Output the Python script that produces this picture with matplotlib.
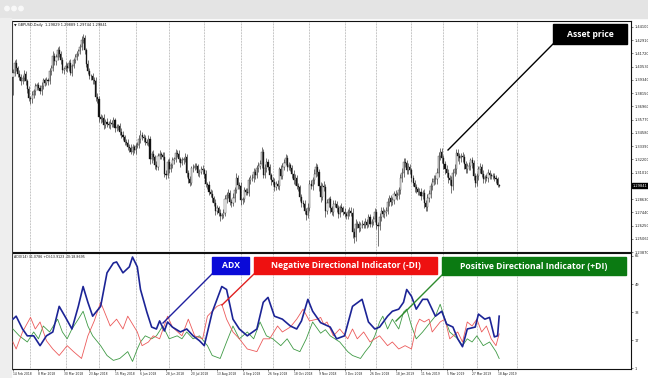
# -*- coding: utf-8 -*-

import numpy as np
import matplotlib
matplotlib.use('Agg')
import matplotlib.pyplot as plt
import matplotlib.patches as mpatches
import matplotlib.transforms as mtransforms

W, H = 648, 378

# GBPUSD daily closes in pips above 1.0000, one per trading day (14 Feb 2018 .. 19 Apr 2019)
first_open = 3960
closes = [
    4000, 4090, 4040,
    3990, 3960, 3920, 3950, 3990, 3920, 3850, 3770, 3760, 3800,
    3830, 3880, 3890, 3860, 3830, 3880, 3930, 3910, 3930, 3920,
    4010, 4040, 4150, 4100, 4140, 4200, 4170, 4110, 4020, 4030,
    4060, 4040, 4090, 4000, 4060, 4110, 4140, 4170, 4190, 4230,
    4290, 4310, 4200, 4080, 4010, 3970, 3970, 3930, 3920, 3780,
    3760, 3600, 3580, 3590, 3530, 3560, 3540, 3530, 3550, 3540,
    3570, 3500, 3510, 3520, 3470, 3440, 3420, 3380, 3370, 3330,
    3320, 3290, 3330, 3300, 3340, 3350, 3400, 3440, 3420, 3410,
    3380, 3370, 3400, 3220, 3270, 3240, 3170, 3150, 3250, 3270,
    3260, 3240, 3090, 3080, 3200, 3130, 3170, 3210, 3220, 3280,
    3270, 3220, 3190, 3210, 3220, 3240, 3100, 3040, 3010, 3140,
    3140, 3160, 3160, 3100, 3110, 3130, 3120, 3090, 3000, 2990,
    2930, 2910, 2870, 2830, 2760, 2780, 2740, 2710, 2720, 2740,
    2860, 2900, 2920, 2840, 2830, 2870, 2940, 3050, 2990, 2980,
    2850, 2860, 2940, 2930, 2920, 3030, 3050, 3050, 3110, 3080,
    3140, 3160, 3180, 3290, 3080, 3140, 3200, 3150, 3080, 3030,
    3020, 2970, 3000, 2980, 3130, 3070, 3150, 3190, 3230, 3150,
    3170, 3140, 3090, 3030, 3050, 2980, 2970, 2880, 2830, 2820,
    2760, 2720, 2780, 3000, 2980, 3030, 3090, 3150, 3110, 2980,
    2880, 2980, 2970, 2760, 2830, 2860, 2780, 2750, 2820, 2820,
    2780, 2730, 2790, 2780, 2750, 2730, 2710, 2750, 2760, 2740,
    2570, 2520, 2640, 2640, 2600, 2630, 2640, 2630, 2660, 2630,
    2700, 2640, 2660, 2680, 2750, 2630, 2620, 2700,
    2760, 2730, 2750, 2760, 2840, 2870, 2840, 2850, 2910, 2890,
    2900, 2940, 3050, 3100, 3200, 3190, 3120, 3150, 3120, 3050,
    3010, 2970, 2950, 2930, 2930, 2890, 2920, 2830, 2790, 2870,
    2910, 2980, 3020, 3040, 3040, 3100, 3250, 3290, 3230, 3180,
    3130, 3100, 3050, 3030, 2980, 3100, 3130, 3280, 3250, 3230,
    3250, 3240, 3180, 3130, 3160, 3160, 3210, 3190, 3070, 3010,
    3070, 3130, 3150, 3090, 3040, 3060, 3050, 3100, 3080, 3070,
    3070, 3050, 3040, 2990, 2984,
]

# shadows in pips, above the body top / below the body bottom
wick_up = [
    30, 25, 35, 20, 30, 25, 30, 35, 20, 25, 30, 20, 35, 25, 30, 20, 25, 30, 35, 20,
    25, 30, 20, 35, 25, 40, 30, 25, 30, 35, 25, 30, 20, 35, 30, 25, 30, 20, 25, 30,
    20, 25, 30, 35, 40, 30, 25, 30, 35, 20, 25, 30, 40, 35, 30, 25, 30, 35, 20, 30,
    25, 30, 20, 35, 25, 30, 20, 25, 30, 35, 20, 25, 30, 25, 35, 30, 20, 25, 30, 35,
    40, 30, 25, 30, 20, 35, 30, 25, 30, 20, 35, 25, 30, 20, 25, 45, 30, 25, 35, 20,
    30, 25, 35, 20, 30, 25, 30, 20, 35, 30, 25, 30, 20, 35, 25, 30, 20, 25, 30, 35,
    25, 30, 20, 35, 25, 30, 20, 35, 30, 25, 30, 20, 35, 40, 25, 30, 20, 25, 45, 30,
    50, 25, 30, 35, 20, 30, 25, 35, 30, 25, 35, 30, 25, 30, 40, 30, 45, 25, 35, 30,
    25, 30, 20, 30, 35, 25, 30, 20, 35, 40, 30, 35, 25, 30, 20, 25, 30, 35, 25, 30,
    20, 30, 25, 30, 20, 45, 30, 35, 30, 40, 35, 30, 25, 40, 30, 45, 30, 35, 25, 30,
    25, 30, 35, 25, 30, 20, 35, 25, 30, 20, 25, 30, 35, 40, 30, 45, 30, 25, 30, 35,
    25, 30, 20, 30, 25, 20, 30, 35, 25, 30, 40, 35, 30, 25, 30, 35, 25, 30, 35, 25,
    30, 25, 35, 40, 45, 35, 30, 25, 35, 30, 25, 30, 25, 30, 20, 35, 30, 25, 30, 25,
    35, 30, 25, 30, 35, 40, 45, 40, 30, 35, 30, 25, 35, 30, 25, 40, 30, 45, 35, 30,
    30, 25, 40, 30, 25, 30, 35, 25, 30, 25, 30, 25, 30, 35, 25, 30, 20, 25, 30, 25,
    20, 25, 30, 25, 20, 10,
]
wick_dn = [
    160, 30, 25, 30, 25, 35, 20, 25, 30, 35, 25, 40, 30, 25, 30, 35, 20, 25, 30, 25,
    30, 25, 35, 20, 30, 25, 35, 30, 25, 30, 35, 25, 30, 20, 35, 30, 25, 30, 20, 25,
    30, 25, 20, 30, 25, 35, 30, 25, 30, 35, 30, 25, 35, 30, 40, 30, 25, 35, 30, 25,
    30, 35, 25, 30, 35, 25, 30, 35, 25, 30, 35, 25, 30, 35, 25, 30, 25, 30, 20, 25,
    30, 25, 35, 30, 25, 30, 45, 30, 25, 35, 30, 25, 30, 35, 25, 30, 35, 25, 30, 20,
    25, 30, 20, 30, 25, 35, 20, 30, 25, 40, 35, 30, 25, 30, 20, 25, 30, 35, 25, 30,
    35, 30, 35, 30, 25, 35, 30, 40, 35, 30, 45, 30, 25, 30, 35, 25, 30, 35, 25, 30,
    25, 35, 30, 40, 30, 25, 30, 25, 30, 35, 25, 30, 35, 25, 30, 25, 40, 30, 25, 35,
    30, 35, 40, 30, 35, 30, 25, 35, 30, 25, 30, 25, 35, 30, 25, 35, 30, 40, 30, 35,
    35, 40, 30, 35, 45, 30, 25, 30, 35, 30, 30, 40, 45, 40, 30, 35, 60, 30, 35, 40,
    30, 35, 30, 35, 40, 30, 35, 30, 25, 30, 30, 35, 30, 60, 50, 30, 35, 30, 25, 30,
    30, 25, 30, 20, 30, 25, 30, 25, 40, 180, 35, 35, 30, 40, 35, 30, 40, 35, 30, 35,
    30, 35, 40, 35, 30, 35, 40, 30, 35, 30, 35, 30, 40, 35, 30, 35, 40, 30, 45, 35,
    30, 35, 40, 35, 30, 40, 45, 35, 40, 45, 50, 40, 35, 45, 40, 60, 35, 30, 40, 45,
    50, 35, 40, 45, 35, 30, 40, 35, 50, 40, 35, 30, 40, 35, 30, 35, 30, 25, 30, 35,
    25, 30, 25, 30, 20, 10,
]

date_labels = ['14 Feb 2018', '8 Mar 2018', '30 Mar 2018', '23 Apr 2018', '15 May 2018',
               '6 Jun 2018', '28 Jun 2018', '20 Jul 2018', '13 Aug 2018', '4 Sep 2018',
               '26 Sep 2018', '18 Oct 2018', '9 Nov 2018', '3 Dec 2018', '26 Dec 2018',
               '18 Jan 2019', '11 Feb 2019', '5 Mar 2019', '27 Mar 2019', '18 Apr 2019']
label_every = 16  # bars between date labels
grid_bars = [11, 33, 54, 77, 98, 120, 143, 163, 186, 208, 228, 250, 270, 291, 316]

# 1.29820 sits under the current-price marker, so it is left out
price_labels = ['1.44100', '1.42910', '1.41720', '1.40530', '1.39340', '1.38150',
                '1.36960', '1.35770', '1.34580', '1.33390', '1.32200', '1.31010',
                '1.28630', '1.27440', '1.26250', '1.25060', '1.23870']
last_price = '1.29841'
price_header = u'\u25bc GBPUSD,Daily  1.29829 1.29889 1.29744 1.29841'

# ADX(14) window, traced at the turning points
adx_bars = [0, 2, 6, 9, 13, 17, 21, 25, 29, 33, 37, 41, 44, 47, 50, 55, 59, 63, 65, 69,
            73, 75, 78, 80, 84, 87, 90, 92, 95, 97, 100, 105, 109, 113, 117, 120, 125,
            131, 134, 138, 142, 147, 153, 157, 160, 164, 169, 174, 178, 181, 185, 188,
            193, 199, 203, 208, 213, 219, 223, 227, 230, 235, 238, 242, 245, 247, 250,
            253, 257, 260, 265, 269, 272, 276, 279, 282, 285, 290, 292, 296, 299, 302,
            304, 305]
adx_vals = [29, 30.7, 23.4, 19.5, 19.5, 13.9, 19.5, 21.7, 36.3, 30, 23.4, 36.3, 47.6,
            38.6, 30.7, 36.3, 55.4, 61, 61.6, 55.4, 58.8, 64.4, 58.8, 45.9, 33, 24.5,
            23.4, 28, 22.3, 27.4, 24.5, 21.7, 23.4, 19.5, 16.7, 13.9, 33, 47.6, 45.9,
            29, 23.4, 19.5, 23.4, 38.6, 41.4, 30.7, 29, 25.1, 23.4, 28, 40.3, 33.5, 27,
            24.5, 17.8, 19.5, 36.3, 40.3, 27.4, 23.4, 24.5, 30.7, 33.5, 34.7, 38.6,
            45.9, 42, 34.7, 40.3, 40.3, 30.7, 33.5, 26.2, 24.5, 17.8, 13.3, 23.4, 24.5,
            31.9, 29, 30, 18.9, 19.5, 30.7]

mdi_bars = [0, 2, 6, 11, 14, 17, 21, 25, 29, 34, 38, 43, 47, 51, 55, 56, 61, 65, 69, 72,
            75, 78, 81, 85, 88, 92, 97, 100, 106, 110, 114, 119, 122, 128, 131, 134,
            138, 142, 147, 153, 157, 161, 166, 169, 174, 178, 182, 186, 191, 193, 195,
            197, 201, 205, 210, 213, 216, 220, 224, 227, 230, 235, 238, 242, 246, 250,
            253, 255, 258, 261, 263, 268, 271, 274, 279, 282, 285, 288, 291, 294, 297,
            300, 303, 305]
mdi_vals = [16, 12, 21.7, 30, 23.4, 27.4, 16.7, 12, 8.3, 13.9, 10.5, 6.6, 19.5, 28, 38.6,
            36.3, 25.1, 29, 23.4, 30.7, 26.2, 21.7, 13.9, 16, 19.5, 17.8, 30.7, 24.5,
            19.5, 29, 19.5, 17.8, 30.7, 36.3, 37.5, 29, 21.7, 17.8, 12, 10.5, 17.8, 17.8,
            25.1, 21.7, 24.5, 29, 34.7, 28, 29, 30, 26, 27.4, 19.5, 23.4, 17.8, 23.4,
            17.8, 21.7, 16, 17.8, 19.5, 13.9, 16, 12, 13.9, 12, 25.1, 29, 27.4, 29, 21.7,
            27.4, 29, 17.8, 21.7, 16, 27.4, 25.1, 29, 21.7, 25.1, 17.8, 13.9, 20.6]

pdi_bars = [0, 4, 9, 13, 16, 19, 23, 28, 31, 34, 37, 41, 44, 47, 50, 55, 59, 63, 67, 72,
            75, 78, 80, 83, 87, 90, 94, 98, 103, 106, 109, 113, 117, 122, 125, 130, 134,
            138, 142, 147, 151, 155, 159, 163, 168, 172, 176, 180, 184, 188, 193, 196,
            199, 205, 210, 213, 218, 221, 224, 227, 230, 232, 235, 238, 242, 245, 247,
            250, 253, 257, 262, 265, 268, 271, 274, 279, 282, 285, 288, 291, 295, 299,
            303, 305]
pdi_vals = [23.4, 19.5, 16, 21.7, 17.8, 25.1, 21.7, 29, 21.7, 17.8, 23.4, 29, 33.5, 25.1,
            19.5, 13.9, 8.3, 5.5, 6.6, 10.5, 4.9, 12, 16, 19.5, 17.8, 19.5, 25.1, 17.8,
            19.5, 17.8, 21.7, 17.8, 19.5, 13.9, 8.3, 6.6, 16, 25.1, 17.8, 21.7, 17.8,
            27.4, 19.5, 17.8, 13.9, 17.8, 12, 10.5, 17.8, 27.4, 21, 23, 19.5, 16, 10.5,
            8.3, 6.6, 10.5, 13.9, 19.5, 27.4, 30.7, 23.4, 29, 23.4, 33, 34.7, 25.1, 17.8,
            21.7, 27.4, 30.7, 37.5, 29, 21.7, 17.8, 13.9, 17.8, 16, 19.5, 13.9, 16, 10.5,
            6.6]

ind_labels = [1, 17, 33, 49, 65]
ind_header = 'ADX(14) 31.0786 +DI:13.9123 -DI:18.8695'

# callout boxes: text, box (left, top, right, bottom) px, colour, pointer from -> to px
callouts = [
    ('Asset price', (553, 24, 627, 44), '#000000', (553, 44), (448, 150)),
    ('ADX', (212, 257, 249, 274), '#0a0ad8', (212, 274), (163, 323)),
    ('Negative Directional Indicator (-DI)', (254, 257, 437, 274), '#ee1111', (254, 274), (222, 305)),
    ('Positive Directional Indicator (+DI)', (442, 257, 626, 275), '#0b7a12', (442, 275), (396, 321)),
]
pointer_colors = ['#000000', '#2020a0', '#e02020', '#2e8b2e']


def px_rect(left, top, right, bottom):
    return [left / W, 1 - bottom / H, (right - left) / W, (bottom - top) / H]


def style_panel(ax):
    ax.set_facecolor('white')
    for sp in ax.spines.values():
        sp.set_color('#111111')
        sp.set_linewidth(0.8)
    ax.set_xlim(-0.6, 387.7)
    ax.yaxis.tick_right()
    ax.tick_params(axis='y', length=1.5, width=0.4, pad=1, labelsize=2.6, colors='#222222')
    for b in grid_bars:
        ax.axvline(b, color='#8a8a8a', linewidth=0.5, linestyle=(0, (1, 1.2)), zorder=0)


fig = plt.figure(figsize=(W / 100, H / 100), dpi=100)
fig.patch.set_facecolor('white')

# price window
ax = fig.add_axes(px_rect(12, 21, 631, 252))
style_panel(ax)
ax.set_ylim(1.24234, 1.44637)
ax.set_xticks([])

c = 1 + np.array(closes) / 10000.0
o = np.r_[1 + first_open / 10000.0, c[:-1]]
hi = np.maximum(o, c) + np.array(wick_up) / 10000.0
lo = np.minimum(o, c) - np.array(wick_dn) / 10000.0
x = np.arange(len(c))
bull = c >= o

ax.vlines(x, lo, hi, color='#1a1a1a', linewidth=0.42, zorder=2)
ax.bar(x, c - o, bottom=o, width=0.7, color=np.where(bull, 'white', '#111111'),
       edgecolor='#1a1a1a', linewidth=0.25, zorder=3)

ax.set_yticks([float(s) for s in price_labels])
ax.set_yticklabels(price_labels)
blend = mtransforms.blended_transform_factory(ax.transAxes, ax.transData)
ax.text(1.003, float(last_price), last_price, transform=blend, fontsize=2.6, color='white',
        va='center', ha='left', bbox=dict(boxstyle='square,pad=0.25', fc='black', ec='black'))
ax.text(0.004, 0.99, price_header, transform=ax.transAxes, fontsize=2.5, va='top',
        color='#111111')

# ADX window
ax2 = fig.add_axes(px_rect(12, 253, 631, 369))
style_panel(ax2)
ax2.set_ylim(0.6, 66.7)
ax2.plot(pdi_bars, pdi_vals, color='#3f9a45', linewidth=0.6, zorder=3)
ax2.plot(mdi_bars, mdi_vals, color='#ec5a5a', linewidth=0.6, zorder=3)
ax2.plot(adx_bars, adx_vals, color='#1c2496', linewidth=1.2, zorder=4)
ax2.set_yticks(ind_labels)
ax2.set_yticklabels([str(v) for v in ind_labels])
ax2.set_xticks(np.arange(len(date_labels)) * label_every)
ax2.set_xticklabels(date_labels, ha='left')
ax2.tick_params(axis='x', length=1.5, width=0.4, pad=1, labelsize=2.2, colors='#222222')
ax2.text(0.004, 0.985, ind_header, transform=ax2.transAxes, fontsize=2.3, va='top',
         color='#111111')

# overlay in pixel space: browser bar and the callouts
ov = fig.add_axes([0, 0, 1, 1])
ov.set_xlim(0, W)
ov.set_ylim(H, 0)
ov.axis('off')
ov.patch.set_alpha(0)

ov.add_patch(mpatches.Rectangle((0, 0), W, 18, color='#e4e4e4', zorder=1))
ov.add_patch(mpatches.Rectangle((0, 18), 11, H - 18, color='#eeeeee', zorder=1))
for cx in (7, 14, 21):
    ov.add_patch(mpatches.Circle((cx, 8.5), 2.2, color='#f8f8f8', zorder=2))

for (txt, box, col, p0, p1), lc in zip(callouts, pointer_colors):
    ov.plot([p0[0], p1[0]], [p0[1], p1[1]], color=lc, linewidth=1.0, zorder=5)
    l, t, r, b = box
    ov.add_patch(mpatches.Rectangle((l, t), r - l, b - t, color=col, zorder=6))
    ov.text((l + r) / 2, (t + b) / 2 + 0.3, txt, color='white', fontsize=6.2,
            fontweight='bold', family=['Open Sans', 'DejaVu Sans'],
            ha='center', va='center', zorder=7)

fig.savefig('out.png', dpi=100)
